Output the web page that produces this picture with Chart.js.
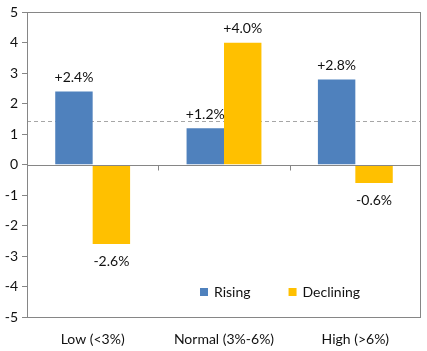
<!DOCTYPE html>
<html>
<head>
<meta charset="utf-8">
<script src="https://cdn.jsdelivr.net/npm/chart.js@4"></script>
<style>
  html, body { margin: 0; padding: 0; background: #fff; }
  #wrap { width: 427px; height: 351px; }
</style>
</head>
<body>
<div id="wrap"><canvas id="myChart" width="427" height="351"></canvas></div>
<script>
// chart data
const categories = ['Low (<3%)', 'Normal (3%-6%)', 'High (>6%)'];
const rising = [2.4, 1.2, 2.8];
const declining = [-2.6, 4.0, -0.6];
const seriesNames = ['Rising', 'Declining'];
const refLine = 1.45;
const yTicks = [-5, -4, -3, -2, -1, 0, 1, 2, 3, 4, 5];

const FONT = 'Lato, "Open Sans", sans-serif';
const AXIS = '#868686';
const TEXT = '#111';

// frame, zero line, dashed reference line, category ticks
const framePlugin = {
  id: 'frame',
  beforeDatasetsDraw(chart) {
    const { ctx, chartArea: a, scales } = chart;
    const yr = scales.y.getPixelForValue(refLine);
    ctx.save();
    ctx.strokeStyle = '#a6a6a6';
    ctx.lineWidth = 1;
    ctx.setLineDash([4, 3]);
    ctx.beginPath();
    ctx.moveTo(a.left, Math.round(yr) + 0.5);
    ctx.lineTo(a.right, Math.round(yr) + 0.5);
    ctx.stroke();
    ctx.restore();
  },
  afterDatasetsDraw(chart) {
    const { ctx, chartArea: a, scales } = chart;
    const y0 = Math.round(scales.y.getPixelForValue(0)) + 0.5;
    ctx.save();
    ctx.strokeStyle = AXIS;
    ctx.lineWidth = 1;
    ctx.strokeRect(Math.round(a.left) + 0.5, Math.round(a.top) + 0.5,
      Math.round(a.right - a.left) - 1, Math.round(a.bottom - a.top));
    ctx.beginPath();
    ctx.moveTo(a.left, y0);
    ctx.lineTo(a.right, y0);
    const step = (a.right - a.left) / categories.length;
    for (let i = 1; i < categories.length; i++) {
      const x = Math.round(a.left + step * i) + 0.5;
      ctx.moveTo(x, y0);
      ctx.lineTo(x, y0 + 5);
    }
    ctx.stroke();
    ctx.restore();
  }
};

// value labels above/below bars
const labelPlugin = {
  id: 'valueLabels',
  afterDatasetsDraw(chart) {
    const { ctx } = chart;
    ctx.save();
    ctx.font = '14px ' + FONT;
    ctx.fillStyle = TEXT;
    ctx.textAlign = 'center';
    ctx.textBaseline = 'middle';
    chart.data.datasets.forEach((ds, di) => {
      chart.getDatasetMeta(di).data.forEach((bar, i) => {
        const v = ds.data[i];
        const txt = (v >= 0 ? '+' : '') + v.toFixed(1) + '%';
        const y = v >= 0 ? bar.y - 14 : bar.y + 18;
        ctx.fillText(txt, bar.x, y);
      });
    });
    ctx.restore();
  }
};

// legend inside plot area
const legendPlugin = {
  id: 'innerLegend',
  afterDraw(chart) {
    const { ctx, chartArea: a } = chart;
    ctx.save();
    ctx.font = '14px ' + FONT;
    ctx.textBaseline = 'middle';
    let x = a.left + 173;
    const y = a.bottom - 25;
    chart.data.datasets.forEach(ds => {
      ctx.fillStyle = ds.backgroundColor;
      ctx.fillRect(x, y - 4, 8, 8);
      ctx.fillStyle = TEXT;
      ctx.fillText(ds.label, x + 14, y);
      x += 14 + ctx.measureText(ds.label).width + 38;
    });
    ctx.restore();
  }
};

const ctx = document.getElementById('myChart').getContext('2d');
new Chart(ctx, {
  type: 'bar',
  data: {
    labels: categories,
    datasets: [
      { label: seriesNames[0], data: rising, backgroundColor: '#4f81bd' },
      { label: seriesNames[1], data: declining, backgroundColor: '#ffc000' }
    ]
  },
  options: {
    responsive: false,
    animation: false,
    layout: { padding: { top: 12, right: 6, left: 0, bottom: 0 } },
    datasets: { bar: { categoryPercentage: 0.57, barPercentage: 1.0 } },
    plugins: { legend: { display: false }, tooltip: { enabled: false } },
    scales: {
      x: {
        grid: { display: false },
        border: { display: false },
        ticks: { color: TEXT, font: { family: FONT, size: 14 }, maxRotation: 0, padding: 6 },
        afterFit(scale) { scale.height = 34; }
      },
      y: {
        min: -5,
        max: 5,
        afterBuildTicks(scale) { scale.ticks = yTicks.map(v => ({ value: v })); },
        grid: { drawOnChartArea: false, color: AXIS, tickLength: 5 },
        border: { display: false },
        ticks: { color: TEXT, font: { family: FONT, size: 14 }, padding: 4 },
        afterFit(scale) { scale.width = 27; }
      }
    }
  },
  plugins: [framePlugin, labelPlugin, legendPlugin]
});
</script>
</body>
</html>
